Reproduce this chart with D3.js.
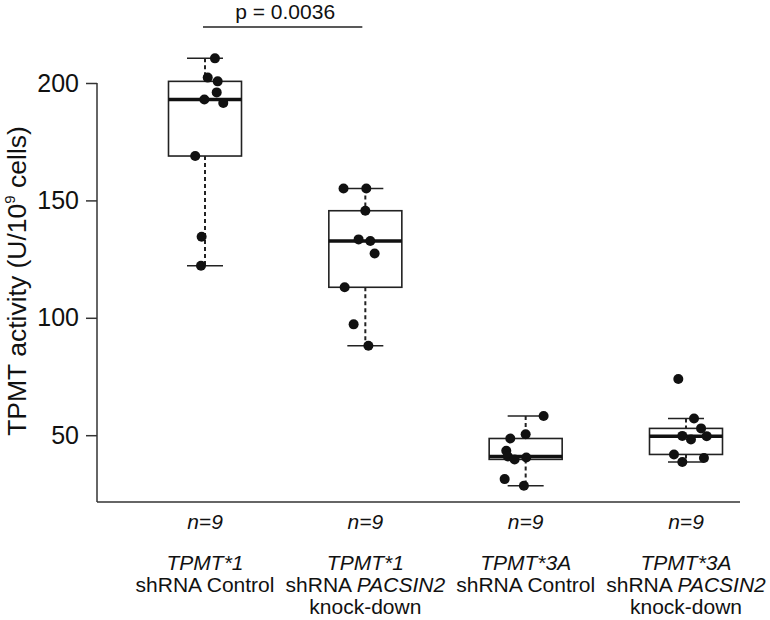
<!DOCTYPE html>
<html><head><meta charset="utf-8">
<script src="https://cdn.jsdelivr.net/npm/d3@7"></script>
<style>body{margin:0;background:#fff}svg{display:block}text{font-family:"Liberation Sans",Arial,sans-serif;fill:#111}</style>
</head><body><svg id="c" width="770" height="620"></svg>
<script>
const categories = ["TPMT*1 shRNA Control","TPMT*1 shRNA PACSIN2 knock-down","TPMT*3A shRNA Control","TPMT*3A shRNA PACSIN2 knock-down"];
const genotype = ["TPMT*1","TPMT*1","TPMT*3A","TPMT*3A"];
const treatment = ["Control","PACSIN2","Control","PACSIN2"];
const nLabels = ["n=9","n=9","n=9","n=9"];
const yTicks = [50,100,150,200];
const pLabel = "p = 0.0036";
const valuesTPMT1Control = [210.5,202.3,200.7,196.0,193.0,191.5,168.9,134.5,122.2];
const valuesTPMT1KD = [155.1,155.1,145.6,133.4,132.7,127.4,113.0,97.2,88.1];
const valuesTPMT3AControl = [58.2,48.6,50.4,43.4,40.9,39.7,40.5,31.3,28.5];
const valuesTPMT3AKD = [73.9,57.1,52.9,49.6,49.7,48.2,41.8,38.6,40.3];
// horizontal jitter of the points, in fractions of the category step
const jitterTPMT1Control = [0.062,0.017,0.079,0.073,-0.004,0.114,-0.061,-0.021,-0.025];
const jitterTPMT1KD = [-0.136,0.006,0.0,-0.042,0.031,0.058,-0.129,-0.073,0.019];
const jitterTPMT3AControl = [0.112,-0.096,0.0,-0.121,-0.111,-0.069,0.004,-0.131,-0.011];
const jitterTPMT3AKD = [-0.048,0.05,0.094,0.129,-0.023,0.031,-0.075,-0.023,0.112];
const yMin = 21.5;

const series = [valuesTPMT1Control,valuesTPMT1KD,valuesTPMT3AControl,valuesTPMT3AKD];
const jitters = [jitterTPMT1Control,jitterTPMT1KD,jitterTPMT3AControl,jitterTPMT3AKD];

const svg = d3.select("#c");
const x = d3.scalePoint().domain(categories).range([205,686]);
const step = x(categories[1]) - x(categories[0]);
const y = d3.scaleLinear().domain([50,200]).range([435.2,83]);
const boxW = 73, capW = 36;
const axisX = 97, axisRight = 740, axisBottom = y(yMin);

// Tukey five-number summary (as R's boxplot)
function fivenum(arr){
  const s = arr.slice().sort(d3.ascending), n = s.length;
  const n4 = Math.floor((n+3)/2)/2;
  const idx = [1, n4, (n+1)/2, n+1-n4, n];
  return idx.map(i => 0.5*(s[Math.floor(i)-1] + s[Math.ceil(i)-1]));
}
function stats(arr){
  const f = fivenum(arr), iqr = f[3]-f[1];
  const hi = d3.max(arr.filter(v => v <= f[3]+1.5*iqr));
  const lo = d3.min(arr.filter(v => v >= f[1]-1.5*iqr));
  return {lo, q1:f[1], med:f[2], q3:f[3], hi};
}

// axes
const yAxis = svg.append("g").attr("transform",`translate(${axisX},0)`)
  .call(d3.axisLeft(y).tickValues(yTicks).tickSize(11).tickPadding(7).tickSizeOuter(0));
yAxis.select(".domain").remove();
yAxis.selectAll(".tick line").attr("stroke","#333").attr("stroke-width",1.5);
yAxis.selectAll(".tick text").attr("font-size",25).attr("fill","#111").attr("font-family","Liberation Sans, Arial, sans-serif");
svg.append("line").attr("x1",axisX).attr("x2",axisX).attr("y1",y(200)).attr("y2",axisBottom).attr("stroke","#333").attr("stroke-width",1.5);
svg.append("line").attr("x1",axisX).attr("x2",axisRight).attr("y1",axisBottom).attr("y2",axisBottom).attr("stroke","#333").attr("stroke-width",1.5);

// y label
const yl = svg.append("text").attr("transform","translate(26,281) rotate(-90)").attr("text-anchor","middle").attr("font-size",26.5);
yl.append("tspan").text("TPMT activity (U/10");
yl.append("tspan").text("9").attr("font-size",15).attr("dy",-11);
yl.append("tspan").text(" cells)").attr("dy",11);

// boxes
categories.forEach((c,i) => {
  const s = stats(series[i]), cx = x(c);
  const g = svg.append("g");
  g.append("line").attr("x1",cx).attr("x2",cx).attr("y1",y(s.hi)).attr("y2",y(s.q3)).attr("stroke","#222").attr("stroke-width",2).attr("stroke-dasharray","4,3");
  g.append("line").attr("x1",cx).attr("x2",cx).attr("y1",y(s.q1)).attr("y2",y(s.lo)).attr("stroke","#222").attr("stroke-width",2).attr("stroke-dasharray","4,3");
  [s.hi,s.lo].forEach(v => g.append("line").attr("x1",cx-capW/2).attr("x2",cx+capW/2).attr("y1",y(v)).attr("y2",y(v)).attr("stroke","#222").attr("stroke-width",1.5));
  g.append("rect").attr("x",cx-boxW/2).attr("width",boxW).attr("y",y(s.q3)).attr("height",y(s.q1)-y(s.q3)).attr("fill","#fff").attr("stroke","#222").attr("stroke-width",1.6);
  g.append("line").attr("x1",cx-boxW/2).attr("x2",cx+boxW/2).attr("y1",y(s.med)).attr("y2",y(s.med)).attr("stroke","#111").attr("stroke-width",3.5);
});

// points
categories.forEach((c,i) => {
  svg.append("g").selectAll("circle").data(series[i]).join("circle")
    .attr("cx",(d,k) => x(c) + jitters[i][k]*step)
    .attr("cy",d => y(d)).attr("r",5).attr("fill","#111");
});

// significance bar
const pY = 27;
svg.append("line").attr("x1",x(categories[0])-2).attr("x2",x(categories[1])-3).attr("y1",pY).attr("y2",pY).attr("stroke","#222").attr("stroke-width",1.3);
svg.append("text").attr("x",(x(categories[0])+x(categories[1]))/2).attr("y",pY-8).attr("text-anchor","middle").attr("font-size",21).text(pLabel);

// x labels
categories.forEach((c,i) => {
  const cx = x(c);
  svg.append("text").attr("x",cx).attr("y",529).attr("text-anchor","middle").attr("font-size",21).attr("font-style","italic").text(nLabels[i]);
  svg.append("text").attr("x",cx).attr("y",570).attr("text-anchor","middle").attr("font-size",21).attr("font-style","italic").text(genotype[i]);
  const t2 = svg.append("text").attr("x",cx).attr("y",592).attr("text-anchor","middle").attr("font-size",21);
  if (treatment[i] === "Control") { t2.text("shRNA Control"); }
  else {
    t2.append("tspan").text("shRNA ");
    t2.append("tspan").attr("font-style","italic").text(treatment[i]);
    svg.append("text").attr("x",cx).attr("y",614).attr("text-anchor","middle").attr("font-size",21).text("knock-down");
  }
});
</script></body></html>
